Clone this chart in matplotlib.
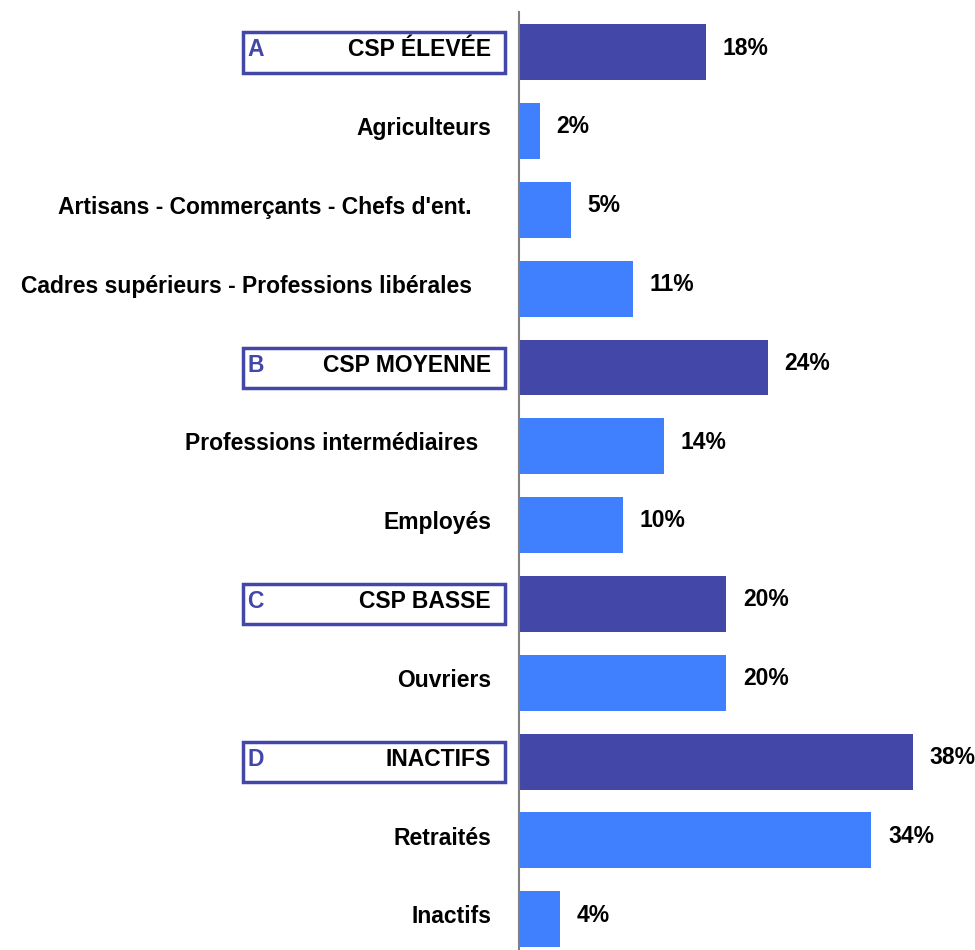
import matplotlib.pyplot as plt
from matplotlib.patches import Rectangle
from matplotlib.transforms import blended_transform_factory

plt.rcParams['font.family'] = ['Liberation Sans', 'DejaVu Sans']

labels = ["CSP ÉLEVÉE", "Agriculteurs", "Artisans - Commerçants - Chefs d'ent.   ",
          "Cadres supérieurs - Professions libérales   ", "CSP MOYENNE",
          "Professions intermédiaires  ", "Employés", "CSP BASSE", "Ouvriers",
          "INACTIFS", "Retraités", "Inactifs"]
values = [18, 2, 5, 11, 24, 14, 10, 20, 20, 38, 34, 4]
group_letters = {0: "A", 4: "B", 7: "C", 9: "D"}

dark = "#4347A8"
light = "#4080FF"

fig = plt.figure(figsize=(9.75, 9.5), dpi=100)
ax = fig.add_axes([519 / 975, 0, 1 - 519 / 975, 938 / 950])

rows = list(range(len(values)))
colors = [dark if i in group_letters else light for i in rows]
ax.barh(rows, values, height=0.71, color=colors)

ax.set_xlim(0, 44)
ax.set_ylim(len(values) - 1 + 0.39, -0.51)
for s in ["top", "right", "bottom"]:
    ax.spines[s].set_visible(False)
ax.spines["left"].set_color("#808080")
ax.spines["left"].set_linewidth(1.5)
ax.set_xticks([])
ax.set_yticks([])

# value labels
for i, v in zip(rows, values):
    ax.annotate(f"{v}%", (v, i), xytext=(12, 3), textcoords="offset points",
                ha="left", va="center", fontsize=16.5, fontweight="bold")

# category labels and group boxes
tr = blended_transform_factory(fig.transFigure, ax.transData)
for i, lab in zip(rows, labels):
    fig.text(491 / 975, i - 0.03, lab, transform=tr, ha="right", va="center",
             fontsize=16.5, fontweight="bold")
    if i in group_letters:
        box = Rectangle((243 / 975, i - 0.25), (505 - 243) / 975, 0.51,
                        transform=tr, fill=False, edgecolor=dark, linewidth=2.5,
                        clip_on=False)
        fig.add_artist(box)
        fig.text(247 / 975, i - 0.03, group_letters[i], transform=tr,
                 ha="left", va="center", fontsize=16.5, fontweight="bold",
                 color=dark)

fig.savefig("out.png", dpi=100)
